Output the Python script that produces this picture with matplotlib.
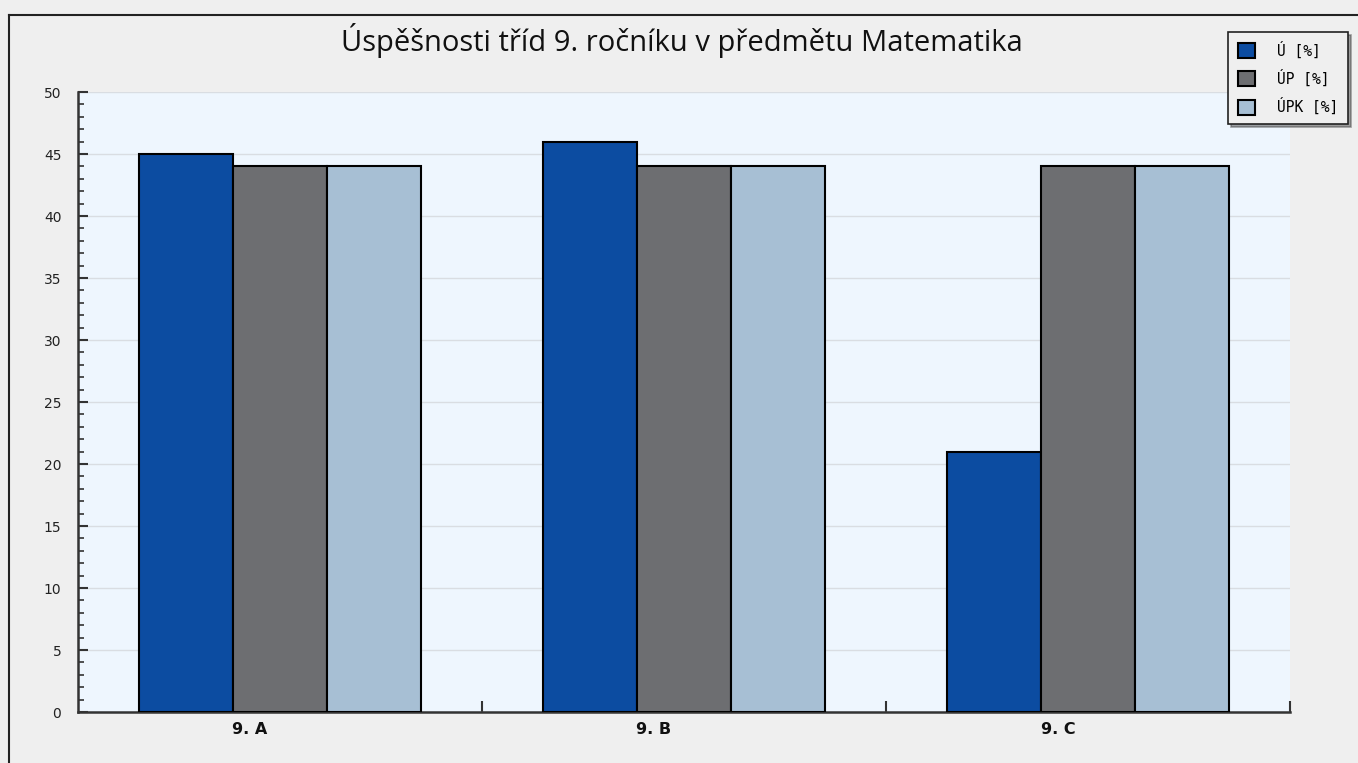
import numpy as np
import matplotlib
matplotlib.use('Agg')
from matplotlib import pyplot as plt
from matplotlib.ticker import MultipleLocator, FixedLocator
import matplotlib.transforms as mtransforms
from matplotlib.lines import Line2D

# data
classes = ['9. A', '9. B', '9. C']
series_names = ['Ú [%]', 'ÚP [%]', 'ÚPK [%]']
u_vals = [45, 46, 21]
up_vals = [44, 44, 44]
upk_vals = [44, 44, 44]
colors = ['#0c4ca1', '#6d6e71', '#a7bfd4']

fig = plt.figure(figsize=(13.58, 7.63), dpi=100, facecolor='#efefef')
ax = fig.add_axes([78/1358, 1-712/763, (1290-78)/1358, (712-92)/763])
ax.set_facecolor('#eef6fe')

# outer frame (only top and left edge visible)
fig.add_artist(Line2D([9/1358, 9/1358], [0, 1-15/763], color='#222222', lw=1.5))
fig.add_artist(Line2D([9/1358, 1], [1-15/763, 1-15/763], color='#222222', lw=1.5))

x = np.arange(len(classes))
w = 0.7 / 3
for i, (vals, name) in enumerate(zip([u_vals, up_vals, upk_vals], series_names)):
    ax.bar(x + (i - 1) * w, vals, width=w, color=colors[i], edgecolor='black',
           linewidth=1.5, label=name, zorder=3)

ax.set_xlim(-0.5, 2.5)
ax.set_ylim(0, 50)
ax.yaxis.set_major_locator(MultipleLocator(5))
ax.yaxis.set_minor_locator(MultipleLocator(1))
ax.grid(axis='y', which='major', color='#d9dde2', lw=1, zorder=0)

for s in ['top', 'right']:
    ax.spines[s].set_visible(False)
for s in ['left', 'bottom']:
    ax.spines[s].set_color('#333333')
    ax.spines[s].set_linewidth(1.8)

ax.tick_params(axis='y', which='major', direction='in', length=7, width=1.5,
               color='#333333', labelsize=10, pad=12, labelcolor='#222222')
ax.tick_params(axis='y', which='minor', direction='in', length=4, width=1.2,
               color='#333333')

ax.set_xticks(x)
ax.set_xticklabels(classes, fontsize=11.5, fontweight='bold', family='DejaVu Sans')
ax.tick_params(axis='x', which='major', length=0, pad=7, labelcolor='#111111')
ax.xaxis.set_minor_locator(FixedLocator(list(x + 0.5)))
ax.tick_params(axis='x', which='minor', direction='in', length=8, width=1.5,
               color='#333333')
shift = mtransforms.ScaledTranslation(-30/100, 0, fig.dpi_scale_trans)
for lbl in ax.get_xticklabels():
    lbl.set_transform(lbl.get_transform() + shift)

fig.text(682/1358, 1 - 40/763,
         'Úspěšnosti tříd 9. ročníku v předmětu Matematika',
         ha='center', va='center', fontsize=21, family='Open Sans', color='#111111')

leg = ax.legend(loc='upper right', bbox_to_anchor=(1348/1358, 1-32/763),
                bbox_transform=fig.transFigure, frameon=True, shadow=True,
                fancybox=False, prop={'family': 'DejaVu Sans Mono', 'size': 10.5},
                handlelength=1.2, handleheight=1.2, borderpad=0.65,
                labelspacing=0.75, handletextpad=1.5, borderaxespad=0)
leg.get_frame().set_edgecolor('#222222')
leg.get_frame().set_facecolor('#efefef')
leg.get_frame().set_linewidth(1.2)

fig.savefig('out.png', dpi=100, facecolor=fig.get_facecolor())
